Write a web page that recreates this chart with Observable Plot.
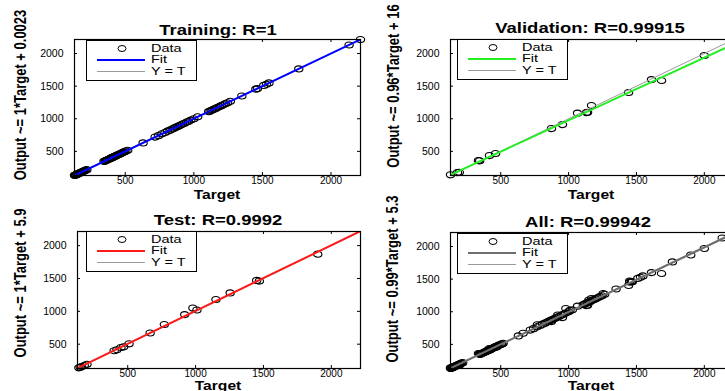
<!DOCTYPE html>
<html><head><meta charset="utf-8">
<script src="https://cdn.jsdelivr.net/npm/d3@7"></script>
<script src="https://cdn.jsdelivr.net/npm/@observablehq/plot@0.6"></script>
<style>
body{margin:0;background:#fff;font-family:"Liberation Sans",Arial,sans-serif;}
#root{position:relative;width:725px;height:391px;overflow:hidden;background:#fff;}
.abs{position:absolute;white-space:nowrap;color:#000;line-height:1;}
.title{font-weight:bold;font-size:14px;}
.ylab{font-weight:bold;font-size:13px;}
.xlab{font-weight:bold;font-size:13px;}
</style></head><body><div id="root"></div><script>
// ---- data ----
const axisLimits = [130, 2215];
const tickValues = [500, 1000, 1500, 2000];
const panelTitles = ["Training: R=1", "Validation: R=0.99915", "Test: R=0.9992", "All: R=0.99942"];
const yLabels = ["Output ~= 1*Target + 0.0023", "Output ~= 0.96*Target + 16", "Output ~= 1*Target + 5.9", "Output ~= 0.99*Target + 5.3"];
const xLabel = "Target";
const legendLabels = ["Data", "Fit", "Y = T"];
const fitSlopes = [1, 0.96, 1, 0.99];
const fitIntercepts = [0.0023, 16, 5.9, 5.3];
const fitColors = ["#0000ff", "#22ee22", "#ff1a1a", "#6e6e6e"];

const trainTarget = [130,134,138,142,146,150,154,158,162,166,170,174,178,182,186,190,195,200,205,212,220,
  345,352,358,364,370,376,382,388,394,400,406,412,418,424,430,436,442,448,455,462,470,478,486,495,505,518,
  630,718,742,768,790,808,826,842,856,868,880,892,904,918,932,948,962,978,1000,1028,
  1108,1118,1128,1138,1148,1160,1174,1188,1200,1214,1230,1246,1266,1350,1452,1464,1510,1530,1548,1765,2132,2215];
const trainOutput = [131,133,139,141,147,151,153,159,161,167,169,175,177,183,185,191,194,201,204,213,219,
  346,351,359,363,371,375,383,387,395,399,407,411,419,423,431,435,443,447,456,461,471,477,487,494,506,517,
  629,719,741,769,789,809,825,843,855,869,879,893,903,919,931,949,961,979,999,1029,
  1109,1117,1129,1137,1149,1159,1175,1187,1201,1213,1231,1245,1267,1349,1453,1463,1511,1529,1549,1764,2131,2214];
const valTarget = [130,182,195,336,345,417,462,874,955,1066,1132,1140,1169,1442,1611,1685,2000];
const valOutput = [140,175,180,360,355,436,467,850,911,1085,1095,1100,1203,1402,1600,1586,1970];
const testTarget = [140,150,160,180,200,400,420,450,470,510,665,770,920,980,1010,1150,1255,1450,1470,1900];
const testOutput = [140,148,160,175,195,400,415,450,460,505,670,800,950,1050,1020,1180,1280,1470,1460,1870];

// ---- layout (page px) ----
const layout = [
  {left:0,   top:0,   w:365, h:200, fl:74,  ft:39,  fr:360, fb:175, title:[218,30],  ylab:[20,95],   xlab:[217,194],   leg:[86,40]},
  {left:362, top:0,   w:375, h:200, fl:450, ft:39,  fr:733, fb:175, title:[590,28],  ylab:[393,86],  xlab:[591,194],   leg:[457,39]},
  {left:0,   top:195, w:365, h:200, fl:77,  ft:231, fr:360, fb:368, title:[218,220], ylab:[20,283],  xlab:[218,384.5], leg:[86,231]},
  {left:362, top:195, w:375, h:200, fl:450, ft:232, fr:733, fb:368, title:[588,222], ylab:[392,279], xlab:[591,384.5], leg:[457,233]}
];

const zip = (t, o) => t.map((v, i) => ({target: v, output: o[i]}));
const panelData = [
  zip(trainTarget, trainOutput),
  zip(valTarget, valOutput),
  zip(testTarget, testOutput),
  zip(trainTarget.concat(valTarget, testTarget), trainOutput.concat(valOutput, testOutput))
];

// ellipse symbol (the reference circles are slightly wide)
const ellipse = {
  draw(ctx, size) {
    const r = Math.sqrt(size / Math.PI), rx = r * 1.3, ry = r * 0.95;
    const kx = rx * 0.5523, ky = ry * 0.5523;
    ctx.moveTo(rx, 0);
    ctx.bezierCurveTo(rx, ky, kx, ry, 0, ry);
    ctx.bezierCurveTo(-kx, ry, -rx, ky, -rx, 0);
    ctx.bezierCurveTo(-rx, -ky, -kx, -ry, 0, -ry);
    ctx.bezierCurveTo(kx, -ry, rx, -ky, rx, 0);
    ctx.closePath();
  }
};

const root = document.getElementById("root");
function addText(cls, text, cx, cy, transform) {
  const d = document.createElement("div");
  d.className = "abs " + cls;
  d.textContent = text;
  d.style.left = cx + "px";
  d.style.top = cy + "px";
  d.style.transform = "translate(-50%,-50%) " + (transform || "");
  root.appendChild(d);
}

const NS = "http://www.w3.org/2000/svg";
function el(name, attrs, parent) {
  const e = document.createElementNS(NS, name);
  for (const k in attrs) e.setAttribute(k, attrs[k]);
  if (parent) parent.appendChild(e);
  return e;
}
function addLegend(x, y, fitColor) {
  const s = el("svg", {width: 111, height: 41});
  s.style.position = "absolute"; s.style.left = x + "px"; s.style.top = y + "px";
  el("rect", {x: 0.5, y: 0.5, width: 110, height: 40, fill: "#fff", stroke: "#000", "stroke-width": 1}, s);
  const ys = [8.5, 20, 31.5];
  el("ellipse", {cx: 36, cy: ys[0], rx: 4, ry: 3, fill: "none", stroke: "#000", "stroke-width": 1}, s);
  el("line", {x1: 11, x2: 59, y1: ys[1], y2: ys[1], stroke: fitColor, "stroke-width": 2}, s);
  el("line", {x1: 11, x2: 59, y1: ys[2], y2: ys[2], stroke: "#9a9a9a", "stroke-width": 1}, s);
  legendLabels.forEach((lab, i) => {
    const t = el("text", {transform: `translate(65,${ys[i]}) scale(1.45,1)`, "dominant-baseline": "central",
      "font-size": 10, "font-family": "Liberation Sans, Arial, sans-serif", fill: "#000"}, s);
    t.textContent = lab;
  });
  root.appendChild(s);
}

layout.forEach((L, i) => {
  const fw = L.fr - L.fl, fh = L.fb - L.ft;
  const idLine = axisLimits.map(v => ({target: v, output: v}));
  const fitLine = axisLimits.map(v => ({target: v, output: fitSlopes[i] * v + fitIntercepts[i]}));
  const svg = Plot.plot({
    width: L.w, height: L.h,
    marginLeft: L.fl - L.left, marginTop: L.ft - L.top,
    marginRight: L.left + L.w - L.fr, marginBottom: L.top + L.h - L.fb,
    x: {domain: axisLimits, axis: null},
    y: {domain: axisLimits, axis: null},
    style: {fontFamily: "Liberation Sans, Arial, sans-serif", fontSize: "10.5px", background: "transparent", overflow: "visible", color: "#000"},
    marks: [
      Plot.dot(panelData[i], {x: "target", y: "output", r: 3.2, symbol: ellipse, stroke: "#000", strokeWidth: 1.1, fill: "none"}),
      Plot.line(idLine, {x: "target", y: "output", stroke: "#9a9a9a", strokeWidth: 1, clip: true}),
      Plot.line(fitLine, {x: "target", y: "output", stroke: fitColors[i], strokeWidth: 2, clip: true}),
      Plot.ruleX(tickValues, {insetTop: fh - 3, stroke: "#000"}),
      Plot.ruleX(tickValues, {insetBottom: fh - 3, stroke: "#000"}),
      Plot.ruleY(tickValues, {insetRight: fw - 3, stroke: "#000"}),
      Plot.ruleY(tickValues, {insetLeft: fw - 3, stroke: "#000"}),
      Plot.axisX(tickValues, {anchor: "bottom", tickSize: 0, tickPadding: 1, label: null, fontSize: 10, tickFormat: d => String(d)}),
      Plot.axisY(tickValues, {anchor: "left", tickSize: 0, tickPadding: 11, label: null, tickFormat: d => String(d)}),
      Plot.frame({stroke: "#000", strokeWidth: 1.2})
    ]
  });
  svg.style.position = "absolute";
  svg.style.left = L.left + "px";
  svg.style.top = L.top + "px";
  root.appendChild(svg);
  addText("title", panelTitles[i], L.title[0], L.title[1], "scaleX(1.32)");
  addText("ylab", yLabels[i], L.ylab[0], L.ylab[1], "rotate(-90deg) scaleY(1.3)");
  addText("xlab", xLabel, L.xlab[0], L.xlab[1], "scaleX(1.2)");
  addLegend(L.leg[0], L.leg[1], fitColors[i]);
});
</script></body></html>
